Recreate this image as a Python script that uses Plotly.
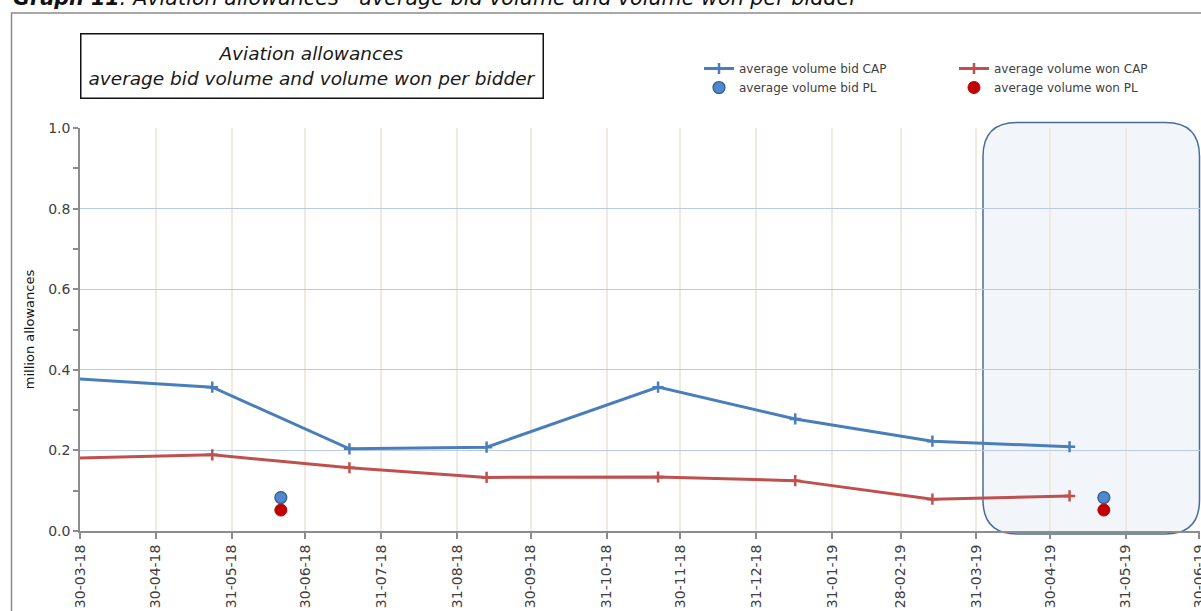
import plotly.graph_objects as go

# ---- data ----
cap_dates = ['2018-03-27', '2018-05-23', '2018-07-18', '2018-09-12',
             '2018-11-21', '2019-01-16', '2019-03-13', '2019-05-08']
bid_cap = [0.378, 0.357, 0.204, 0.208, 0.357, 0.278, 0.223, 0.209]
won_cap = [0.1805, 0.189, 0.157, 0.133, 0.134, 0.125, 0.079, 0.087]

pl_dates = ['2018-06-20', '2019-05-22']
bid_pl = [0.083, 0.083]
won_pl = [0.052, 0.052]

tick_dates = ['2018-03-30', '2018-04-30', '2018-05-31', '2018-06-30',
              '2018-07-31', '2018-08-31', '2018-09-30', '2018-10-31',
              '2018-11-30', '2018-12-31', '2019-01-31', '2019-02-28',
              '2019-03-31', '2019-04-30', '2019-05-31', '2019-06-30']

BLUE = '#4a7ebb'
RED = '#c0504d'
TXT = '#404040'
FONT = 'DejaVu Sans'

W, H = 1201, 611
L, R, T, B = 80, 1, 128, 80
PW, PH = W - L - R, H - T - B


def px(xp):
    return (xp - L) / PW


def py(yp):
    return (H - B - yp) / PH


fig = go.Figure()

fig.add_trace(go.Scatter(
    x=cap_dates, y=bid_cap, mode='lines+markers', name='average volume bid CAP',
    line=dict(color=BLUE, width=3),
    marker=dict(symbol='cross-thin', size=8, color=BLUE,
                line=dict(color=BLUE, width=2.5)),
    legend='legend'))
fig.add_trace(go.Scatter(
    x=cap_dates, y=won_cap, mode='lines+markers', name='average volume won CAP',
    line=dict(color=RED, width=3),
    marker=dict(symbol='cross-thin', size=8, color=RED,
                line=dict(color=RED, width=2.5)),
    legend='legend2'))
fig.add_trace(go.Scatter(
    x=pl_dates, y=won_pl, mode='markers', name='average volume won PL',
    marker=dict(symbol='circle', size=12, color='#c00000',
                line=dict(color='#c00000', width=1)),
    legend='legend2'))
fig.add_trace(go.Scatter(
    x=pl_dates, y=bid_pl, mode='markers', name='average volume bid PL',
    marker=dict(symbol='circle', size=12, color='#4f88cc',
                line=dict(color='#2c5a8c', width=1.2)),
    legend='legend'))

# highlighted rounded box (2019 period)
x0, x1 = px(983), px(1199.5)
y0, y1 = py(534), py(122.5)
rx, ry = 34 / PW, 34 / PH
path = (f"M {x0+rx} {y1} L {x1-rx} {y1} Q {x1} {y1} {x1} {y1-ry} "
        f"L {x1} {y0+ry} Q {x1} {y0} {x1-rx} {y0} L {x0+rx} {y0} "
        f"Q {x0} {y0} {x0} {y0+ry} L {x0} {y1-ry} Q {x0} {y1} {x0+rx} {y1} Z")
fig.add_shape(type='path', path=path, xref='paper', yref='paper',
              fillcolor='rgba(190,208,236,0.20)',
              line=dict(color='#4a6c9c', width=1.5), layer='between')

# outer frame (top and left edges)
fig.add_shape(type='path', xref='paper', yref='paper',
              path=f"M {px(11.5)} {py(640)} L {px(11.5)} {py(13)} L {px(1230)} {py(13)}",
              line=dict(color='#8c8c8c', width=1.5), layer='above')

# title box
fig.add_annotation(
    xref='paper', yref='paper', x=px(311.5), y=py(65.5),
    xanchor='center', yanchor='middle',
    text='<i>Aviation allowances</i><br><i>average bid volume and volume won per bidder</i>',
    showarrow=False, width=459, height=61,
    font=dict(family=FONT, size=18.5, color='#1a1a1a'),
    bordercolor='#111111', borderwidth=1.5, bgcolor='white', align='center')

# clipped page caption at the very top
fig.add_annotation(
    xref='paper', yref='paper', x=px(11), y=py(12),
    xanchor='left', yanchor='bottom',
    text='<b><i>Graph 11</i></b><i>: Aviation allowances - average bid volume and volume won per bidder</i>',
    showarrow=False, font=dict(family=FONT, size=20.7, color='#111111'))

fig.update_layout(
    width=W, height=H,
    margin=dict(l=L, r=R, t=T, b=B, autoexpand=False),
    paper_bgcolor='white', plot_bgcolor='white',
    font=dict(family=FONT, color=TXT),
    legend=dict(x=px(699), y=py(54), xanchor='left', yanchor='top',
                bgcolor='rgba(0,0,0,0)', tracegroupgap=0,
                font=dict(family=FONT, size=12, color=TXT),
                itemwidth=30, traceorder='normal'),
    legend2=dict(x=px(954), y=py(54), xanchor='left', yanchor='top',
                 bgcolor='rgba(0,0,0,0)', tracegroupgap=0,
                 font=dict(family=FONT, size=12, color=TXT),
                 itemwidth=30, traceorder='normal'),
    showlegend=True,
)

fig.update_xaxes(
    type='date', range=['2018-03-30', '2019-06-30 06:00'],
    tickvals=tick_dates, tickformat='%d-%m-%y', tickangle=-90,
    ticklabeloverflow='allow', automargin=False,
    tickfont=dict(family=FONT, size=14, color=TXT),
    showgrid=True, gridcolor='#eeeadf', gridwidth=1.5,
    showline=True, linecolor='#8c8c8c', linewidth=2,
    ticks='outside', ticklen=6, tickcolor='#8c8c8c', tickwidth=1.5,
    zeroline=False, fixedrange=True)

fig.update_yaxes(
    range=[0, 1.0], dtick=0.2, tickformat='.1f', automargin=False,
    tickfont=dict(family=FONT, size=14, color=TXT),
    title=dict(text='million allowances', standoff=11,
               font=dict(family=FONT, size=13, color='#111111')),
    showgrid=True, gridcolor='#b9cbe9', gridwidth=1.2,
    showline=True, linecolor='#8c8c8c', linewidth=1.5,
    ticks='outside', ticklen=5, tickcolor='#8c8c8c', tickwidth=1.5,
    minor=dict(dtick=0.1, ticks='outside', ticklen=5, tickcolor='#8c8c8c',
               tickwidth=1.5, showgrid=False),
    zeroline=False, fixedrange=True)

fig.write_html('out.html', config={'displayModeBar': False},
               post_script="document.body.style.margin='0';document.body.style.overflow='hidden';")
